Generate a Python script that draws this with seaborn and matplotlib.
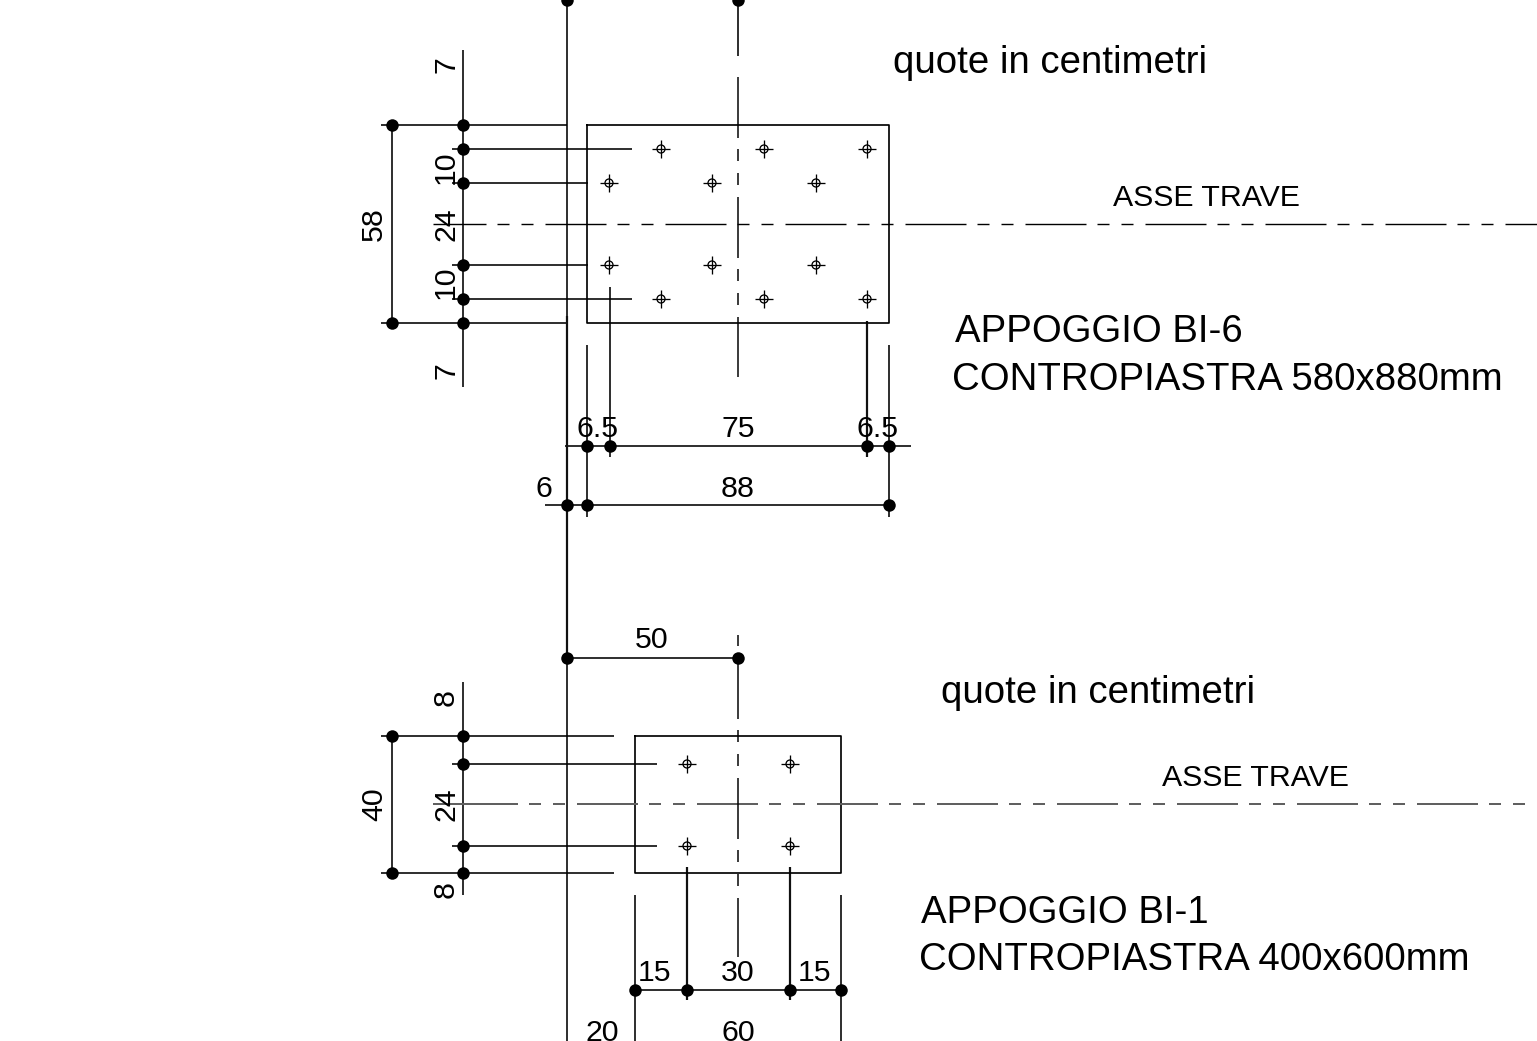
import matplotlib
matplotlib.use('Agg')
import matplotlib.pyplot as plt
import pandas as pd
import seaborn as sns

sns.set_theme(style='white')
plt.rcParams['font.family'] = ['Liberation Sans', 'DejaVu Sans']
plt.rcParams['lines.scale_dashes'] = False

# (y, x start, x end)
h_lines = [
    (125, 381, 567), (149, 452, 632), (183, 452, 588), (265, 452, 588),
    (299, 452, 632), (323, 381, 567), (446, 565, 911), (505, 545, 893),
    (658, 567, 738), (736, 381, 614), (764, 452, 657), (846, 452, 657),
    (873, 381, 614), (990, 635, 841),
]
# (x, y start, y end)
v_lines = [
    (567, 0, 1041), (463, 50, 387), (392, 125, 323), (587, 345, 517),
    (610, 287, 457), (889, 345, 517),
    (463, 682, 895), (392, 736, 873), (635, 895, 1041), (841, 895, 1041),
    (738, 0, 56),
]
# the few heavier extension lines
v_thick = [(567, 316, 658), (867, 321, 457), (687, 867, 1000), (790, 867, 1000)]
# plates: left, top, right, bottom
plates = [(587, 125, 889, 323), (635, 736, 841, 873)]

dots_x = [567, 738, 392, 463, 463, 463, 463, 463, 392, 463, 587, 610, 867, 889,
          567, 587, 889, 567, 738, 392, 463, 463, 463, 463, 392, 635, 687, 790, 841]
dots_y = [0, 0, 125, 125, 149, 183, 265, 299, 323, 323, 446, 446, 446, 446,
          505, 505, 505, 658, 658, 736, 736, 764, 846, 873, 873, 990, 990, 990, 990]

holes_x = [661, 764, 867, 609, 712, 816, 609, 712, 816, 661, 764, 867,
           687, 790, 687, 790]
holes_y = [149, 149, 149, 183, 183, 183, 265, 265, 265, 299, 299, 299,
           764, 764, 846, 846]

# text, x, y, rotation
small_labels = [
    ('7', 446, 65, 90), ('10', 446, 167, 90), ('24', 446, 224, 90), ('10', 446, 282, 90),
    ('7', 446, 371, 90), ('58', 374, 224, 90), ('6.5', 598, 429, 0), ('75', 738, 429, 0),
    ('6.5', 878, 429, 0), ('6', 544, 489, 0), ('88', 738, 489, 0), ('50', 652, 640, 0),
    ('8', 446, 697, 90), ('24', 446, 804, 90), ('8', 446, 890, 90), ('40', 374, 804, 90),
    ('15', 655, 973, 0), ('30', 738, 973, 0), ('15', 815, 973, 0),
    ('20', 602, 1033, 0), ('60', 738, 1033, 0),
    ('ASSE TRAVE', 1206, 198, 0), ('ASSE TRAVE', 1255, 778, 0),
]
big_labels = [
    ('quote in centimetri', 893, 63), ('APPOGGIO BI-6', 955, 332),
    ('CONTROPIASTRA 580x880mm', 952, 380), ('quote in centimetri', 941, 693),
    ('APPOGGIO BI-1', 921, 913), ('CONTROPIASTRA 400x600mm', 919, 960),
]

PX = 0.72  # one pixel in points at dpi 100
fig = plt.figure(figsize=(15.37, 10.41), dpi=100)
ax = fig.add_axes([0, 0, 1, 1])

for y, x0, x1 in h_lines:
    ax.plot([x0, x1], [y, y], color='black', lw=1.6 * PX, solid_capstyle='butt')
for x, y0, y1 in v_lines:
    ax.plot([x, x], [y0, y1], color='black', lw=1.6 * PX, solid_capstyle='butt')
for x, y0, y1 in v_thick:
    ax.plot([x, x], [y0, y1], color='#111111', lw=2.2 * PX, solid_capstyle='butt')
for x0, y0, x1, y1 in plates:
    ax.plot([x0, x1, x1, x0, x0], [y0, y0, y1, y1, y0], color='black', lw=1.7 * PX)

# long-short-short centre lines, 120 px repeat
pattern = tuple(p * PX for p in (61, 11, 12, 12, 12, 12))
ax.plot([433, 1537], [224, 224], color='black', lw=1.4 * PX, dash_capstyle='butt',
        linestyle=(8 * PX, pattern))
ax.plot([433, 457], [804, 804], color='#606060', lw=2 * PX, solid_capstyle='butt')
ax.plot([457, 1526], [804, 804], color='#606060', lw=2 * PX, dash_capstyle='butt',
        linestyle=(0, pattern))
ax.plot([738, 738], [77, 377], color='black', lw=1.5 * PX, dash_capstyle='butt',
        linestyle=(0, pattern))
ax.plot([738, 738], [635, 957], color='black', lw=1.5 * PX, dash_capstyle='butt',
        linestyle=(97 * PX, pattern))

dots = pd.DataFrame({'x': dots_x, 'y': dots_y})
holes = pd.DataFrame({'x': holes_x, 'y': holes_y})
sns.scatterplot(data=dots, x='x', y='y', ax=ax, color='black', s=(12.5 * PX) ** 2,
                linewidth=0, clip_on=False, zorder=5)
sns.scatterplot(data=holes, x='x', y='y', ax=ax, marker='o', s=(8 * PX) ** 2,
                facecolor='none', edgecolor='black', linewidth=1.3 * PX, zorder=4)
sns.scatterplot(data=holes, x='x', y='y', ax=ax, marker='+', s=(18 * PX) ** 2,
                color='black', linewidth=1.3 * PX, zorder=4)

for txt, x, y, rot in small_labels:
    ax.text(x, y, txt, fontsize=21.8, ha='center', va='center', rotation=rot, color='black')
for txt, x, y in big_labels:
    ax.text(x, y, txt, fontsize=27.6, ha='left', va='center', color='black')

ax.set_xlim(0, 1537)
ax.set_ylim(1041, 0)
ax.axis('off')
fig.savefig('out.png', dpi=100, facecolor='white')
